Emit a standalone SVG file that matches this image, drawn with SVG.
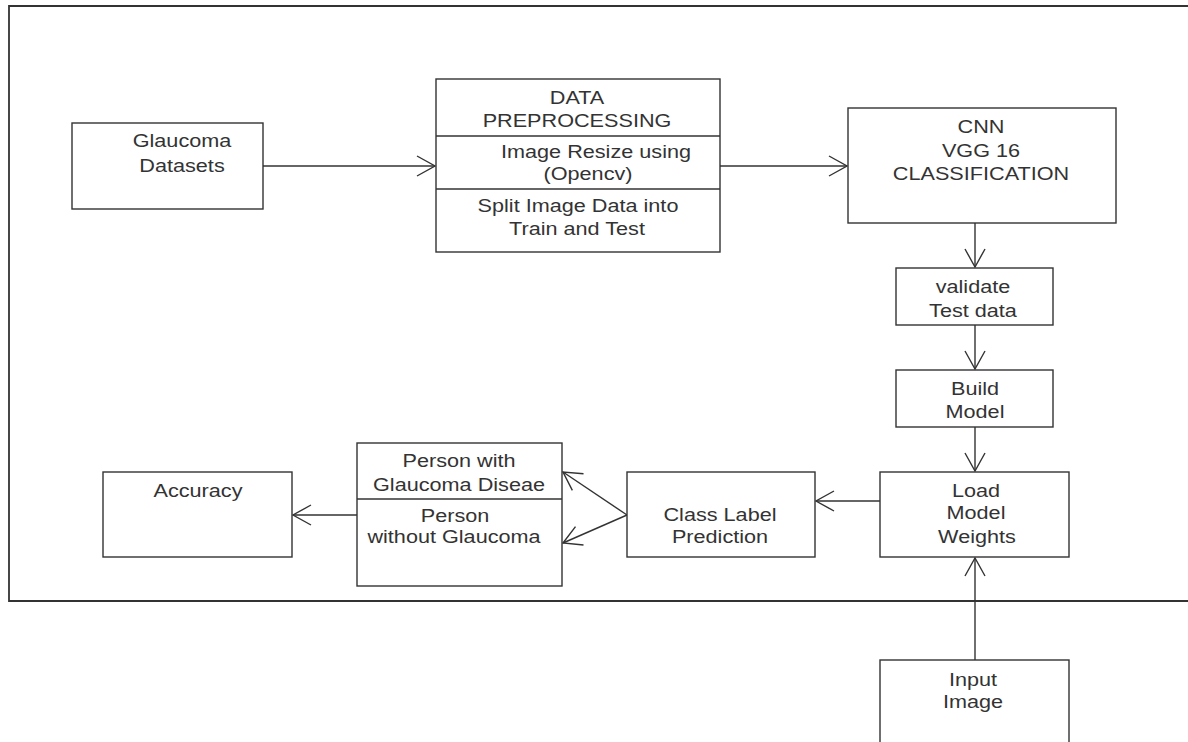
<svg xmlns="http://www.w3.org/2000/svg" width="1188" height="742" viewBox="0 0 1188 742">
<defs>
<style>
.box{fill:#fff;stroke:#333;stroke-width:1.4}
.ln{fill:none;stroke:#333;stroke-width:1.4}
.frame{fill:none;stroke:#333;stroke-width:1.8}
text{font-family:"Liberation Sans",Arial,sans-serif;font-size:18.5px;fill:#333;text-anchor:middle}
</style>
<marker id="ah" viewBox="0 0 20 22" refX="19" refY="11" markerWidth="20" markerHeight="22" markerUnits="userSpaceOnUse" orient="auto">
<path d="M1,1 L19,11 L1,21" fill="none" stroke="#333" stroke-width="1.4"/>
</marker>
</defs>
<rect width="1188" height="742" fill="#fff"/>
<path class="frame" d="M1188,6 H9 V601 H1188"/>

<g id="connectors">
<line class="ln" x1="263" y1="166" x2="435" y2="166" marker-end="url(#ah)"/>
<line class="ln" x1="720" y1="166" x2="847" y2="166" marker-end="url(#ah)"/>
<line class="ln" x1="975" y1="223" x2="975" y2="267" marker-end="url(#ah)"/>
<line class="ln" x1="975" y1="325" x2="975" y2="369" marker-end="url(#ah)"/>
<line class="ln" x1="975" y1="427" x2="975" y2="471" marker-end="url(#ah)"/>
<line class="ln" x1="975" y1="660" x2="975" y2="558" marker-end="url(#ah)"/>
<line class="ln" x1="880" y1="501" x2="816" y2="501" marker-end="url(#ah)"/>
<line class="ln" x1="627" y1="515" x2="563" y2="472" marker-end="url(#ah)"/>
<line class="ln" x1="627" y1="515" x2="563" y2="543" marker-end="url(#ah)"/>
<line class="ln" x1="357" y1="515" x2="293" y2="515" marker-end="url(#ah)"/>
</g>

<g id="glaucoma-datasets">
<rect class="box" x="72" y="123" width="191" height="86"/>
<text transform="translate(182 147) scale(1.17 1)">Glaucoma</text>
<text transform="translate(182 172) scale(1.17 1)">Datasets</text>
</g>

<g id="data-preprocessing">
<rect class="box" x="436" y="79" width="284" height="173"/>
<line class="ln" x1="436" y1="136" x2="720" y2="136"/>
<line class="ln" x1="436" y1="189" x2="720" y2="189"/>
<text transform="translate(577 104) scale(1.17 1)">DATA</text>
<text transform="translate(577 127) scale(1.17 1)">PREPROCESSING</text>
<text transform="translate(596 158) scale(1.17 1)">Image Resize using</text>
<text transform="translate(588 180) scale(1.17 1)">(Opencv)</text>
<text transform="translate(578 212) scale(1.17 1)">Split Image Data into</text>
<text transform="translate(577 235) scale(1.17 1)">Train and Test</text>
</g>

<g id="cnn">
<rect class="box" x="848" y="108" width="268" height="115"/>
<text transform="translate(981 133) scale(1.17 1)">CNN</text>
<text transform="translate(981 157) scale(1.17 1)">VGG 16</text>
<text transform="translate(981 180) scale(1.17 1)">CLASSIFICATION</text>
</g>

<g id="validate">
<rect class="box" x="896" y="268" width="157" height="57"/>
<text transform="translate(973 293) scale(1.17 1)">validate</text>
<text transform="translate(973 317) scale(1.17 1)">Test data</text>
</g>

<g id="build-model">
<rect class="box" x="896" y="370" width="157" height="57"/>
<text transform="translate(975 395) scale(1.17 1)">Build</text>
<text transform="translate(975 418) scale(1.17 1)">Model</text>
</g>

<g id="load-model">
<rect class="box" x="880" y="472" width="189" height="85"/>
<text transform="translate(976 497) scale(1.17 1)">Load</text>
<text transform="translate(976 519) scale(1.17 1)">Model</text>
<text transform="translate(977 543) scale(1.17 1)">Weights</text>
</g>

<g id="class-label">
<rect class="box" x="627" y="472" width="188" height="85"/>
<text transform="translate(720 521) scale(1.17 1)">Class Label</text>
<text transform="translate(720 543) scale(1.17 1)">Prediction</text>
</g>

<g id="person">
<rect class="box" x="357" y="443" width="205" height="143"/>
<line class="ln" x1="357" y1="499" x2="562" y2="499"/>
<text transform="translate(459 467) scale(1.17 1)">Person with</text>
<text transform="translate(459 491) scale(1.17 1)">Glaucoma Diseae</text>
<text transform="translate(455 522) scale(1.17 1)">Person</text>
<text transform="translate(454 543) scale(1.17 1)">without Glaucoma</text>
</g>

<g id="accuracy">
<rect class="box" x="103" y="472" width="189" height="85"/>
<text transform="translate(198 497) scale(1.17 1)">Accuracy</text>
</g>

<g id="input-image">
<rect class="box" x="880" y="660" width="189" height="100"/>
<text transform="translate(973 686) scale(1.17 1)">Input</text>
<text transform="translate(973 708) scale(1.17 1)">Image</text>
</g>
</svg>
